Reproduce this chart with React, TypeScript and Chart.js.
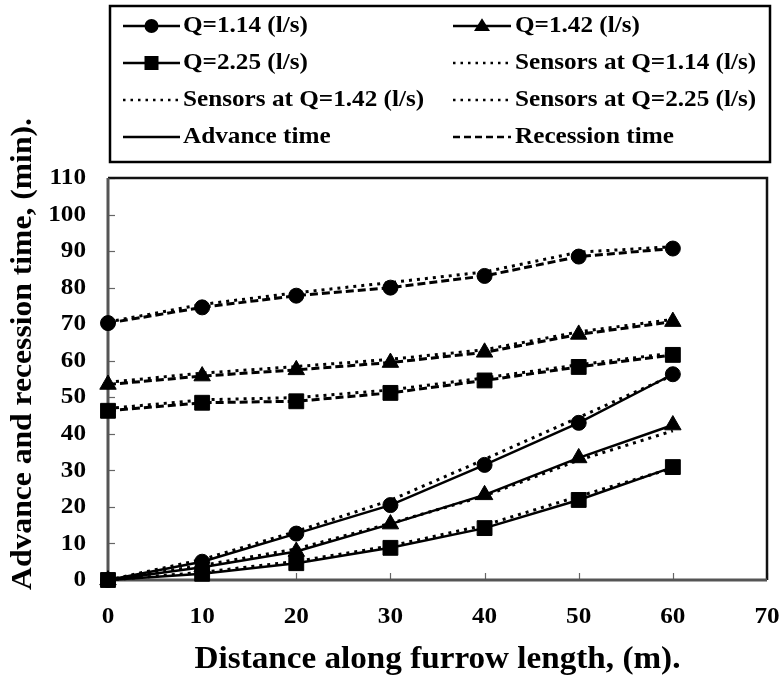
import React, { useEffect, useRef } from "react";
import { Chart, registerables } from "chart.js";
Chart.register(...registerables);

const distance = [0, 10, 20, 30, 40, 50, 60];
const adv114 = [0, 5, 12.7, 20.5, 31.5, 43, 56.3];
const adv142 = [0, 3.5, 7.8, 15.3, 23.3, 33.4, 42.4];
const adv225 = [0, 1.7, 4.6, 8.8, 14.2, 21.9, 30.9];
const rec114 = [70.3, 74.6, 77.8, 80, 83.2, 88.5, 90.7];
const rec142 = [53.5, 55.8, 57.5, 59.5, 62.3, 67.2, 70.7];
const rec225 = [46.3, 48.5, 48.9, 51.2, 54.6, 58.3, 61.6];
const sensAdv114 = [0, 5.6, 13.3, 21.8, 33, 44.5, 56];
const sensAdv142 = [0, 4, 8.5, 15.5, 23, 32.8, 40.8];
const sensAdv225 = [0, 2.1, 5.1, 9.3, 15, 22.9, 30.6];
const sensRec114 = [70.6, 75.4, 78.6, 81.4, 84.3, 89.7, 91.2];
const sensRec142 = [54.1, 56.6, 58.4, 60.4, 63, 67.9, 71.3];
const sensRec225 = [46.9, 49.3, 49.9, 52, 55.3, 58.9, 62.1];

const xTicks = [0, 10, 20, 30, 40, 50, 60, 70];
const yTicks = [0, 10, 20, 30, 40, 50, 60, 70, 80, 90, 100, 110];

const legendLabels = [
  "Q=1.14 (l/s)",
  "Q=1.42 (l/s)",
  "Q=2.25 (l/s)",
  "Sensors at Q=1.14 (l/s)",
  "Sensors at Q=1.42 (l/s)",
  "Sensors at Q=2.25 (l/s)",
  "Advance time",
  "Recession time",
];
const legendLines = ["solid", "solid", "solid", "dotted", "dotted", "dotted", "solid", "dashed"];
const legendMarkers: (string | null)[] = ["circle", "triangle", "rect", null, null, null, null, null];

const xTitle = "Distance along furrow length, (m).";
const yTitle = "Advance and recession time, (min).";

const FONT = '"Liberation Serif", "Times New Roman", serif';
const DOT = [3, 5];
const DASH = [8, 4];

function stretchedText(
  ctx: CanvasRenderingContext2D,
  text: string,
  x: number,
  y: number,
  size: number,
  sx: number,
  align: CanvasTextAlign,
  rot = 0
) {
  ctx.save();
  ctx.font = `bold ${size}px ${FONT}`;
  ctx.fillStyle = "#000";
  ctx.textAlign = align;
  ctx.textBaseline = "middle";
  ctx.translate(x, y);
  if (rot) ctx.rotate(rot);
  ctx.scale(sx, 1);
  ctx.fillText(text, 0, 0);
  ctx.restore();
}

function drawMarker(ctx: CanvasRenderingContext2D, style: string, x: number, y: number, r: number) {
  ctx.save();
  ctx.fillStyle = "#000";
  ctx.beginPath();
  if (style === "circle") {
    ctx.arc(x, y, r, 0, Math.PI * 2);
  } else if (style === "triangle") {
    const h = r * 1.6;
    ctx.moveTo(x, y - h * 0.6);
    ctx.lineTo(x + r, y + h * 0.4);
    ctx.lineTo(x - r, y + h * 0.4);
    ctx.closePath();
  } else {
    ctx.rect(x - r, y - r, 2 * r, 2 * r);
  }
  ctx.fill();
  ctx.restore();
}

function series(values: number[], kind: string, marker: string | false, radius = 0) {
  return {
    data: distance.map((x, i) => ({ x, y: values[i] })),
    borderColor: "#000",
    backgroundColor: "#000",
    borderWidth: kind === "solid" ? 2.5 : 3,
    borderDash: kind === "dotted" ? DOT : kind === "dashed" ? DASH : [],
    pointStyle: marker,
    pointRadius: marker ? radius : 0,
    pointHoverRadius: marker ? radius : 0,
    pointBorderColor: "#000",
    pointBorderWidth: 1,
    pointBackgroundColor: "#000",
    tension: 0,
    fill: false,
    clip: false as any,
  };
}

const framePlugin = {
  id: "frame",
  beforeDatasetsDraw(chart: any) {
    const ctx: CanvasRenderingContext2D = chart.ctx;
    const a = chart.chartArea;
    const xs = chart.scales.x;
    const ys = chart.scales.y;
    ctx.save();
    ctx.strokeStyle = "#666";
    ctx.lineWidth = 1.2;
    xTicks.forEach((v) => {
      const px = Math.round(xs.getPixelForValue(v)) + 0.5;
      ctx.beginPath();
      ctx.moveTo(px, a.bottom);
      ctx.lineTo(px, a.bottom - 7);
      ctx.stroke();
    });
    yTicks.forEach((v) => {
      const py = Math.round(ys.getPixelForValue(v)) + 0.5;
      ctx.beginPath();
      ctx.moveTo(a.left, py);
      ctx.lineTo(a.left + 7, py);
      ctx.stroke();
    });
    ctx.lineWidth = 2.5;
    ctx.strokeStyle = "#111";
    ctx.beginPath();
    ctx.moveTo(a.left, a.top);
    ctx.lineTo(a.right, a.top);
    ctx.lineTo(a.right, a.bottom);
    ctx.stroke();
    ctx.strokeStyle = "#555";
    ctx.lineWidth = 3;
    ctx.beginPath();
    ctx.moveTo(a.left, a.top);
    ctx.lineTo(a.left, a.bottom);
    ctx.lineTo(a.right, a.bottom);
    ctx.stroke();
    ctx.restore();
  },
};

const textPlugin = {
  id: "texts",
  afterDraw(chart: any) {
    const ctx: CanvasRenderingContext2D = chart.ctx;
    const a = chart.chartArea;
    const xs = chart.scales.x;
    const ys = chart.scales.y;
    // tick labels
    yTicks.forEach((v) => {
      stretchedText(ctx, String(v), 86, ys.getPixelForValue(v), 24, 1.05, "right");
    });
    xTicks.forEach((v) => {
      stretchedText(ctx, String(v), xs.getPixelForValue(v), 617, 24, 1.05, "center");
    });
    // axis titles
    stretchedText(ctx, xTitle, (a.left + a.right) / 2, 660, 31, 1.07, "center");
    stretchedText(ctx, yTitle, 24, 354, 29, 1.09, "center", -Math.PI / 2);
    // legend
    ctx.save();
    ctx.strokeStyle = "#000";
    ctx.lineWidth = 2.5;
    ctx.strokeRect(110, 6, 660, 156);
    ctx.restore();
    const rows = [26, 63, 100, 137];
    const cols = [
      { l0: 123, l1: 180, tx: 183 },
      { l0: 453, l1: 511, tx: 515 },
    ];
    legendLabels.forEach((label, i) => {
      const c = cols[i % 2];
      const y = rows[Math.floor(i / 2)];
      const kind = legendLines[i];
      ctx.save();
      ctx.strokeStyle = "#000";
      ctx.lineWidth = 2.5;
      ctx.setLineDash(kind === "dotted" ? [2.5, 5] : kind === "dashed" ? [7, 4] : []);
      ctx.beginPath();
      ctx.moveTo(c.l0, y);
      ctx.lineTo(c.l1, y);
      ctx.stroke();
      ctx.restore();
      const m = legendMarkers[i];
      if (m) {
        const cx = (c.l0 + c.l1) / 2;
        drawMarker(ctx, m, cx, y, m === "circle" ? 7 : m === "triangle" ? 8 : 7);
      }
      stretchedText(ctx, label, c.tx, y, 24, 1.05, "left");
    });
  },
};

export default function App() {
  const ref = useRef<HTMLCanvasElement>(null);
  useEffect(() => {
    const datasets: any[] = [
      series(adv114, "solid", "circle", 7.5),
      series(adv142, "solid", "triangle", 9.5),
      series(adv225, "solid", "rect", 10.5),
      series(rec114, "dashed", "circle", 7.5),
      series(rec142, "dashed", "triangle", 9.5),
      series(rec225, "dashed", "rect", 10.5),
      series(sensAdv114, "dotted", false),
      series(sensAdv142, "dotted", false),
      series(sensAdv225, "dotted", false),
      series(sensRec114, "dotted", false),
      series(sensRec142, "dotted", false),
      series(sensRec225, "dotted", false),
    ];
    const chart = new Chart(ref.current as HTMLCanvasElement, {
      type: "line",
      data: { datasets },
      options: {
        responsive: false,
        animation: false,
        devicePixelRatio: 1,
        events: [],
        layout: { padding: { top: 178, right: 15, left: 0, bottom: 0 }, autoPadding: false },
        plugins: { legend: { display: false }, tooltip: { enabled: false } },
        scales: {
          x: {
            type: "linear",
            min: 0,
            max: 70,
            ticks: { display: false, stepSize: 10 },
            grid: { display: false, drawTicks: false },
            border: { display: false },
            afterFit(s: any) {
              s.height = 95;
            },
          },
          y: {
            type: "linear",
            min: 0,
            max: 110,
            ticks: { display: false, stepSize: 10 },
            grid: { display: false, drawTicks: false },
            border: { display: false },
            afterFit(s: any) {
              s.width = 108;
            },
          },
        },
      } as any,
      plugins: [framePlugin, textPlugin],
    });
    return () => chart.destroy();
  }, []);
  return (
    <div style={{ position: "fixed", left: 0, top: 0, width: 782, height: 675, background: "#fff" }}>
      <canvas ref={ref} width={782} height={675} style={{ display: "block", width: 782, height: 675 }} />
    </div>
  );
}
